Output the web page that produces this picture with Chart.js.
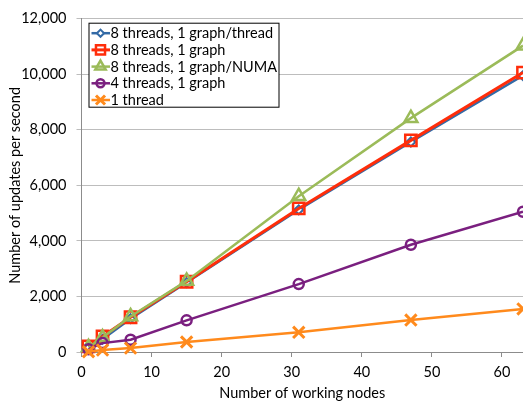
<!DOCTYPE html>
<html>
<head>
<meta charset="utf-8">
<script src="https://cdn.jsdelivr.net/npm/chart.js@4/dist/chart.umd.min.js"></script>
<style>
  html, body { margin: 0; padding: 0; background: #fff; overflow: hidden; }
  #wrap { width: 523px; height: 406px; position: relative; }
</style>
</head>
<body>
<div id="wrap"><canvas id="c" width="523" height="406"></canvas></div>
<script>
// Number of working nodes (x) and update throughput per configuration (y)
const nodes = [1, 3, 7, 15, 31, 47, 63];
const perThreadGraph = [150, 460, 1200, 2500, 5120, 7560, 9950];
const singleGraph8 = [200, 560, 1250, 2530, 5170, 7620, 10060];
const perNumaGraph = [170, 520, 1280, 2560, 5610, 8420, 11030];
const singleGraph4 = [100, 320, 440, 1140, 2445, 3860, 5050];
const singleThread = [10, 70, 140, 360, 710, 1150, 1550];

const seriesNames = [
  '8 threads, 1 graph/thread',
  '8 threads, 1 graph',
  '8 threads, 1 graph/NUMA',
  '4 threads, 1 graph',
  '1 thread'
];
const xTickValues = [0, 10, 20, 30, 40, 50, 60];
const yTickValues = [0, 2000, 4000, 6000, 8000, 10000, 12000];

const FONT = 'Lato, "Open Sans", sans-serif';
const FONT_SIZE = 14.5;

const styles = [
  { color: '#336aa6', point: 'rectRot', radius: 4.5, lw: 2.5, pw: 2, fill: '#ffffff' },
  { color: '#ff2d0a', point: 'rect', radius: 8, lw: 3, pw: 2.5, fill: 'rgba(0,0,0,0)' },
  { color: '#9bbb59', point: 'triangle', radius: 7.5, lw: 2.5, pw: 2.5, fill: 'rgba(0,0,0,0)' },
  { color: '#7a1f7f', point: 'circle', radius: 5, lw: 2.5, pw: 2.5, fill: 'rgba(0,0,0,0)' },
  { color: '#ff8a1c', point: 'crossRot', radius: 8, lw: 2.5, pw: 3, fill: 'rgba(0,0,0,0)' }
];

const seriesValues = [perThreadGraph, singleGraph8, perNumaGraph, singleGraph4, singleThread];

const datasets = seriesValues.map((vals, i) => ({
  label: seriesNames[i],
  data: nodes.map((n, k) => ({ x: n, y: vals[k] })),
  borderColor: styles[i].color,
  backgroundColor: styles[i].color,
  borderWidth: styles[i].lw,
  pointStyle: styles[i].point,
  pointRadius: styles[i].radius,
  pointBorderWidth: styles[i].pw,
  pointBorderColor: styles[i].color,
  pointBackgroundColor: styles[i].fill,
  tension: 0,
  clip: false,
  order: seriesValues.length - i   // later series sit on top
}));

// Boxed legend drawn in the upper-left corner of the plot
const boxedLegend = {
  id: 'boxedLegend',
  afterDatasetsDraw(chart) {
    const ctx = chart.ctx;
    const area = chart.chartArea;
    const x0 = area.left + 7.5, y0 = area.top + 4.5, w = 190, h = 84;
    ctx.save();
    ctx.fillStyle = '#ffffff';
    ctx.fillRect(x0, y0, w, h);
    ctx.strokeStyle = '#000000';
    ctx.lineWidth = 1;
    ctx.strokeRect(x0, y0, w, h);
    ctx.font = FONT_SIZE + 'px ' + FONT;
    ctx.textBaseline = 'middle';
    ctx.textAlign = 'left';
    chart.data.datasets.forEach((ds, i) => {
      const cy = y0 + 10 + i * 16.7;
      ctx.strokeStyle = ds.borderColor;
      ctx.lineWidth = ds.borderWidth;
      ctx.beginPath();
      ctx.moveTo(x0 + 2.5, cy);
      ctx.lineTo(x0 + 21, cy);
      ctx.stroke();
      ctx.fillStyle = ds.pointBackgroundColor;
      ctx.strokeStyle = ds.pointBorderColor;
      ctx.lineWidth = ds.pointBorderWidth;
      Chart.helpers.drawPoint(ctx, { pointStyle: ds.pointStyle, rotation: 0, radius: ds.pointRadius * 0.8, borderWidth: ds.pointBorderWidth }, x0 + 11.5, cy);
      ctx.fillStyle = '#000000';
      ctx.fillText(ds.label, x0 + 21.5, cy + 0.5);
    });
    ctx.restore();
  }
};

new Chart(document.getElementById('c'), {
  type: 'line',
  data: { datasets },
  plugins: [boxedLegend],
  options: {
    responsive: false,
    animation: false,
    layout: { autoPadding: false, padding: { top: 7, right: 0, left: 0, bottom: 0 } },
    plugins: { legend: { display: false }, tooltip: { enabled: false } },
    scales: {
      x: {
        type: 'linear',
        min: 0,
        max: 63,
        afterBuildTicks(scale) { scale.ticks = xTickValues.map(v => ({ value: v })); },
        afterFit(scale) { scale.height = 54; },
        grid: { drawOnChartArea: false, drawTicks: true, tickLength: 5, color: '#8c8c8c' },
        border: { color: '#8c8c8c', width: 1 },
        ticks: { color: '#000', font: { family: FONT, size: FONT_SIZE }, padding: 7, maxRotation: 0 },
        title: { display: true, text: 'Number of working nodes', color: '#000', font: { family: FONT, size: FONT_SIZE }, padding: { top: 0, bottom: 4 } }
      },
      y: {
        type: 'linear',
        min: 0,
        max: 12000,
        afterBuildTicks(scale) { scale.ticks = yTickValues.map(v => ({ value: v })); },
        afterFit(scale) { scale.width = 81.5; },
        grid: { color: '#bdbdbd', tickLength: 5, lineWidth: 1 },
        border: { color: '#8c8c8c', width: 1 },
        ticks: {
          color: '#000',
          font: { family: FONT, size: FONT_SIZE },
          padding: 10,
          callback: v => v.toLocaleString('en-US')
        },
        title: { display: true, text: 'Number of updates per second', color: '#000', font: { family: FONT, size: FONT_SIZE }, padding: { top: 7, bottom: 0 } }
      }
    }
  }
});
</script>
</body>
</html>
